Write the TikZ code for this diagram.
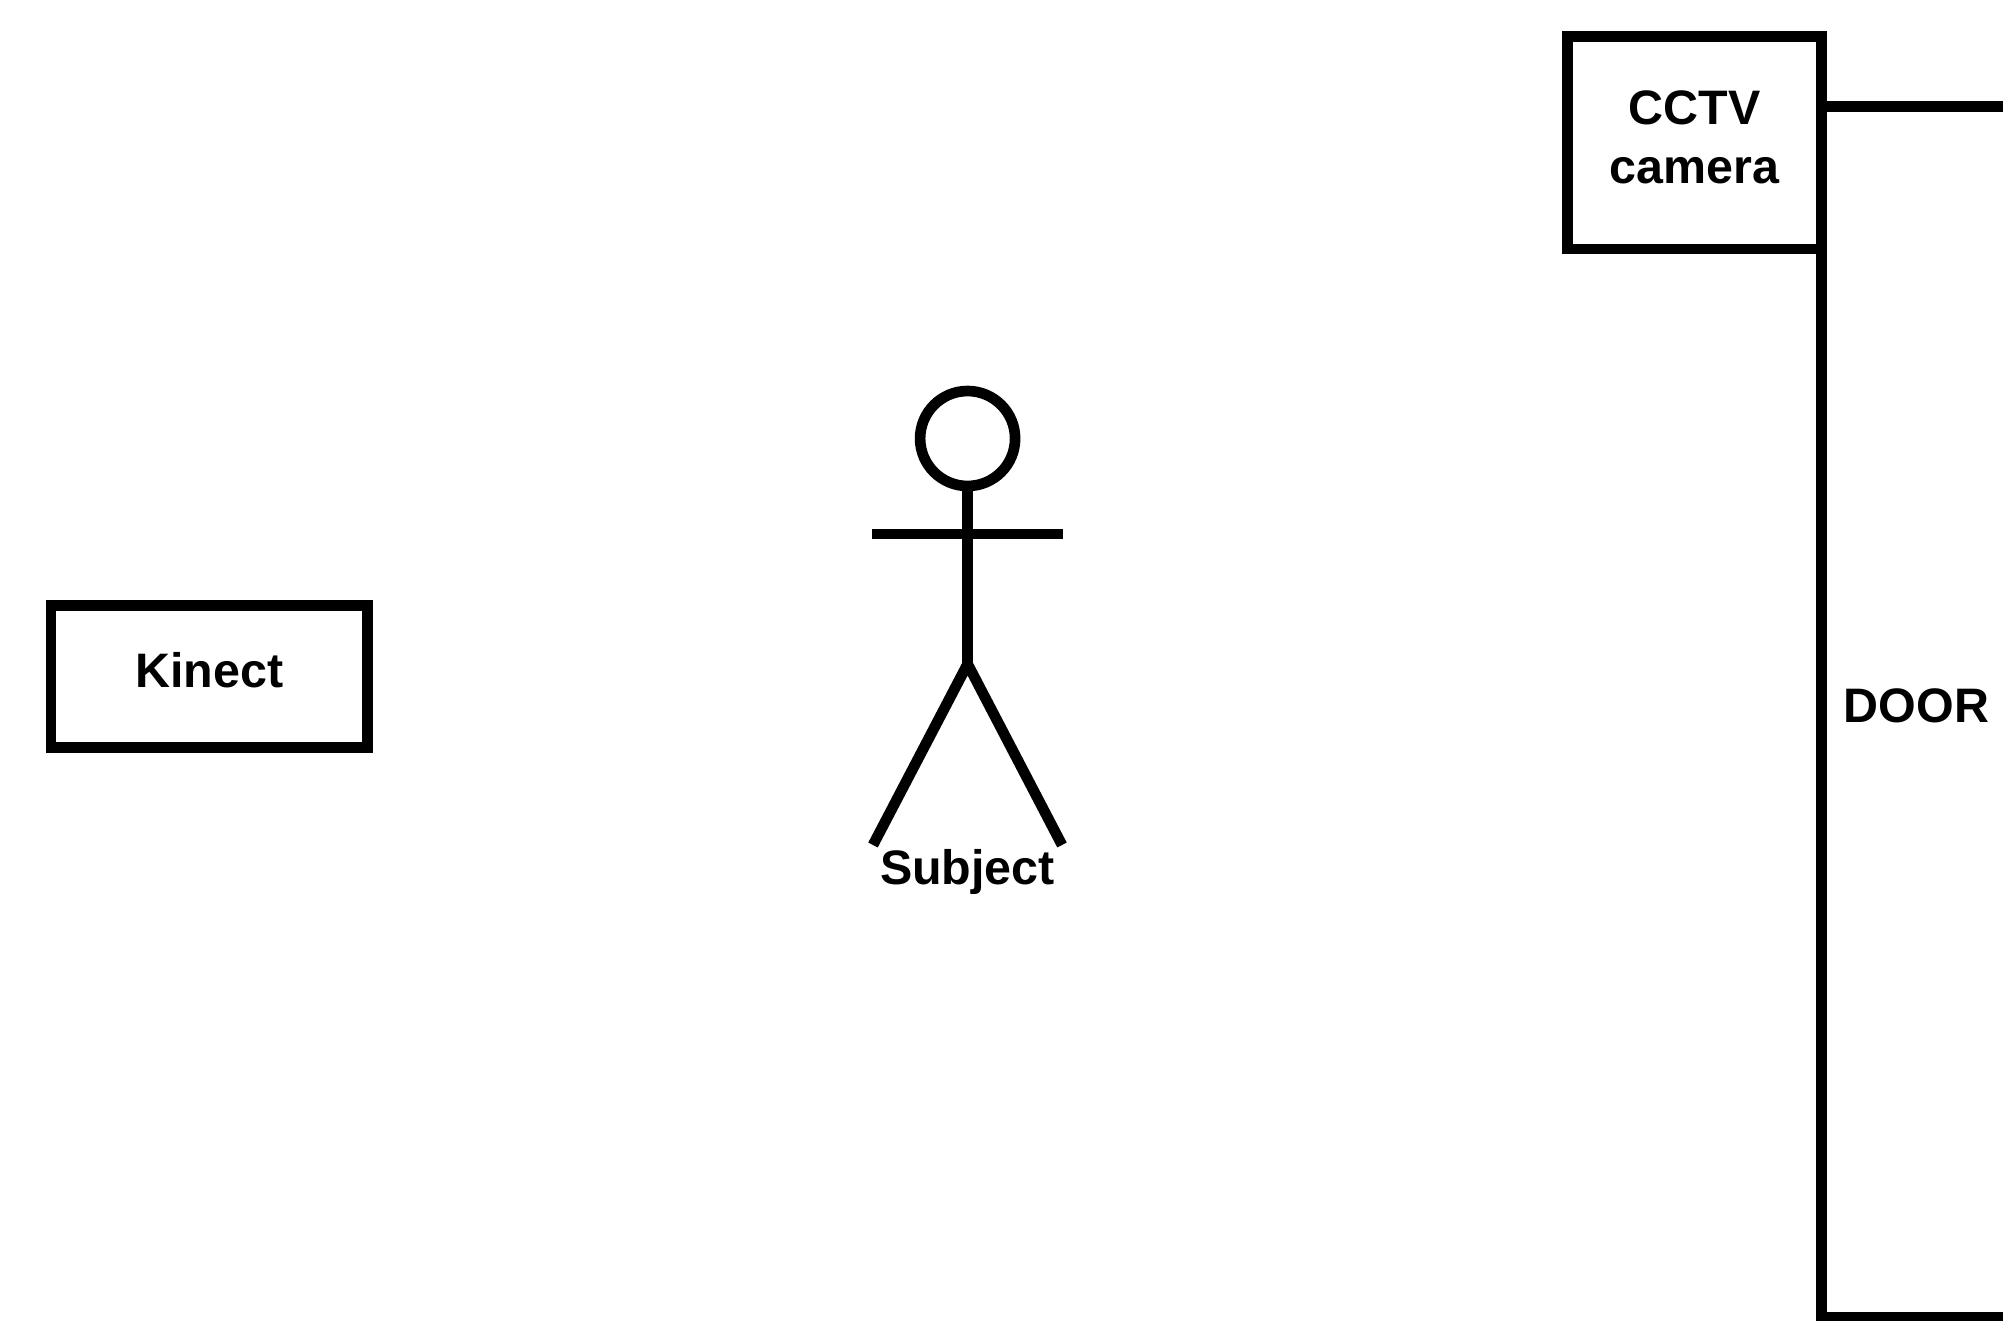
\documentclass[tikz,border=0pt]{standalone}
\usepackage{fontspec}
\setmainfont{Liberation Sans}
\tikzset{
  px/.style={x=0.75pt,y=-0.75pt},
  ink/.style={draw=black,line width=8pt,line cap=butt,line join=miter},
  boxnode/.style={ink,fill=white,inner sep=0pt,outer sep=0pt,rectangle},
  lab/.style={font=\fontsize{36.3pt}{44pt}\selectfont\bfseries,align=center,text=black,inner sep=0pt,outer sep=0pt}
}
\begin{document}
\begin{tikzpicture}[px]
\useasboundingbox (0,0) rectangle (2003,1321);
\clip (0,0) rectangle (2003,1321);
% door
\coordinate (doorTR) at (2003,106.7);
\coordinate (doorTL) at (1821.7,106.7);
\coordinate (doorBL) at (1821.7,1317.7);
\coordinate (doorBR) at (2003,1317.7);
\draw[ink] (doorTR) -- (doorTL) -- (doorBL) -- (doorBR);
% boxes
\node[boxnode,minimum width=190.6pt,minimum height=159.2pt] (cam) at (1694.6,142.85) {};
\node[boxnode,minimum width=237.2pt,minimum height=106.2pt] (kinect) at (209.2,676.5) {};
% labels
\node[lab] (camtext) at (1694.5,137.5) {CCTV\\camera};
\node[lab] (kinecttext) at (209.5,670) {Kinect};
\node[lab] (doortext) at (1916.5,705.5) {DOOR};
% actor
\node[circle,ink,minimum size=71.25pt,inner sep=0pt,outer sep=0pt] (head) at (967.6,438.5) {};
\coordinate (hip) at (967.6,664);
\coordinate (armL) at (872,534);
\coordinate (armR) at (1062.5,534);
\coordinate (footL) at (873,845);
\coordinate (footR) at (1062,845);
\draw[ink] (head.south) -- (hip);
\draw[ink] (armL) -- (armR);
\draw[ink] (footL) -- (hip) -- (footR);
\node[lab] (subject) at (967.5,872) {Subject};
\end{tikzpicture}
\end{document}
